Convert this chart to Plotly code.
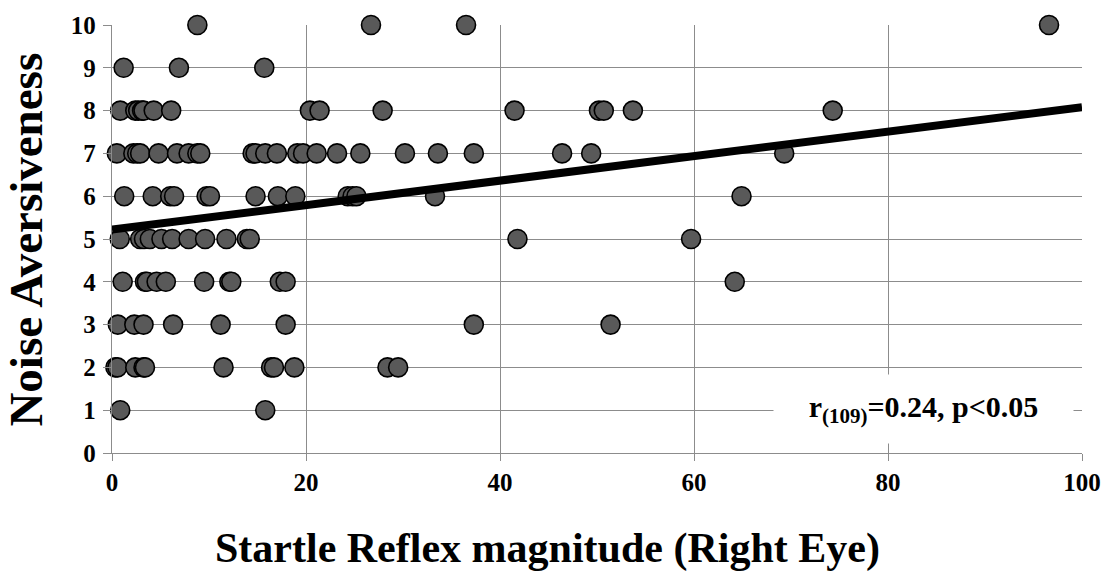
import numpy as np
import plotly.graph_objects as go

# Startle reflex magnitude (right eye) grouped by noise aversiveness rating
startle_r10 = [8.8, 26.7, 36.5, 96.6]
startle_r9 = [1.2, 6.9, 15.7]
startle_r8 = [0.85, 2.4, 2.7, 3.1, 3.25, 4.3, 6.1, 20.4, 21.4, 27.9, 41.5, 50.2, 50.7, 53.7, 74.3]
startle_r7 = [0.5, 2.2, 2.6, 2.9, 4.8, 6.7, 7.9, 8.8, 9.1, 14.5, 14.8, 15.8, 17.0, 19.1, 19.7,
              21.1, 23.2, 25.6, 30.2, 33.6, 37.3, 46.4, 49.4, 69.3]
startle_r6 = [1.26, 4.2, 6.0, 6.4, 9.75, 10.1, 14.8, 17.1, 18.9, 24.3, 24.8, 25.2, 33.3, 64.9]
startle_r5 = [0.8, 2.9, 3.3, 3.9, 5.1, 6.2, 7.9, 9.6, 11.8, 13.9, 14.2, 41.8, 59.7]
startle_r4 = [1.1, 3.4, 3.6, 4.6, 5.55, 9.5, 12.1, 12.3, 17.3, 17.9, 64.2]
startle_r3 = [0.6, 2.3, 3.25, 6.3, 11.2, 17.9, 37.3, 51.4]
startle_r2 = [0.35, 0.55, 2.4, 3.25, 3.4, 11.5, 16.4, 16.7, 18.8, 28.4, 29.5]
startle_r1 = [0.85, 15.8]

ratings = [10, 9, 8, 7, 6, 5, 4, 3, 2, 1]
groups = [startle_r10, startle_r9, startle_r8, startle_r7, startle_r6,
          startle_r5, startle_r4, startle_r3, startle_r2, startle_r1]

# Linear trend (least-squares) reported with the correlation
trend_intercept = 5.22
trend_slope = 0.0286
trend_x = [0, 100]

stat_label = "<b>r<sub>(109)</sub>=0.24, p&lt;0.05</b>"
x_title = "<b>Startle Reflex magnitude (Right Eye)</b>"
y_title = "<b>Noise Aversiveness</b>"

x_ticks = [0, 20, 40, 60, 80, 100]
y_ticks = list(range(0, 11))

xs, ys = [], []
for r, g in zip(ratings, groups):
    xs.extend(g)
    ys.extend([r] * len(g))

FONT = "Liberation Serif"
GRID = "#8c8c8c"

fig = go.Figure()

fig.add_trace(go.Scatter(
    x=xs, y=ys, mode="markers", cliponaxis=False, showlegend=False,
    marker=dict(size=19, color="#595959", line=dict(color="#000000", width=1.6)),
))

trend_y = [trend_intercept + trend_slope * v for v in trend_x]
fig.add_trace(go.Scatter(
    x=trend_x, y=trend_y, mode="lines", cliponaxis=False, showlegend=False,
    line=dict(color="#000000", width=8),
))

fig.add_annotation(
    x=83.7, y=1.02, xref="x", yref="y", text=stat_label, showarrow=False,
    font=dict(family=FONT, size=30, color="#000000"),
    bgcolor="#ffffff", width=299, height=68, borderpad=0,
)

# Axis titles placed relative to the plotting area
fig.add_annotation(
    x=0.449, y=-0.224, xref="paper", yref="paper", text=x_title, showarrow=False,
    xanchor="center", yanchor="middle",
    font=dict(family=FONT, size=42, color="#000000"),
)
fig.add_annotation(
    x=-0.0885, y=0.499, xref="paper", yref="paper", text=y_title, showarrow=False,
    xanchor="center", yanchor="middle", textangle=-90,
    font=dict(family=FONT, size=47, color="#000000"),
)

fig.update_layout(
    width=1113, height=574,
    margin=dict(l=112, r=28, t=20, b=121),
    plot_bgcolor="#ffffff", paper_bgcolor="#ffffff",
    font=dict(family=FONT, color="#000000"),
)

fig.update_xaxes(
    range=[0, 100], tickvals=x_ticks, ticktext=[str(v) for v in x_ticks],
    showgrid=True, gridcolor=GRID, gridwidth=1.3,
    showline=True, linecolor=GRID, linewidth=1.3, zeroline=False,
    ticks="outside", ticklen=7, tickcolor=GRID, tickwidth=1.3,
    tickfont=dict(family=FONT, size=25, color="#000000", weight="bold"),
    ticklabelstandoff=0,
)

fig.update_yaxes(
    range=[0, 10], tickvals=y_ticks, ticktext=[str(v) for v in y_ticks],
    showgrid=True, gridcolor=GRID, gridwidth=1.3,
    showline=True, linecolor=GRID, linewidth=1.3, zeroline=False,
    ticks="outside", ticklen=8, tickcolor=GRID, tickwidth=1.3,
    tickfont=dict(family=FONT, size=25, color="#000000", weight="bold"),
    ticklabelstandoff=2,
)

fig.write_html("out.html")
